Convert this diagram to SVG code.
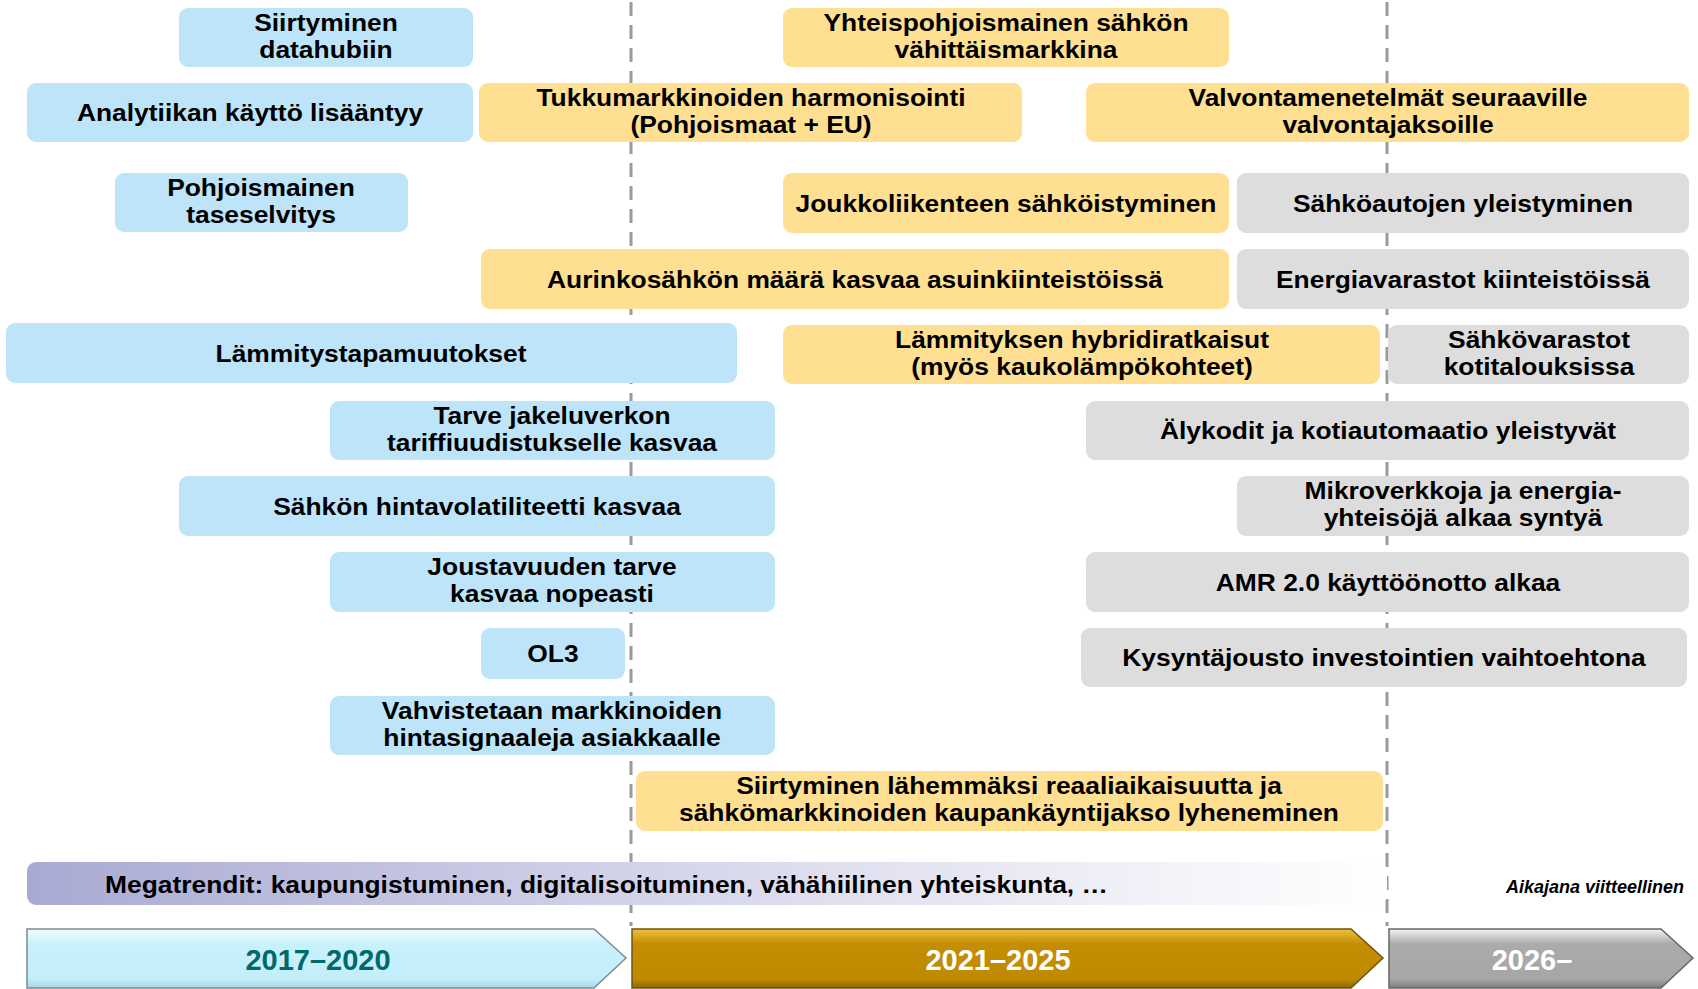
<svg xmlns="http://www.w3.org/2000/svg" width="1698" height="989" viewBox="0 0 1698 989">
<style>
.b{fill:#BDE4F8}
.y{fill:#FFDF91}
.g{fill:#DDDDDD}
.t{font-family:"Liberation Sans",Arial,sans-serif;font-weight:bold;font-size:24px;fill:#000;text-anchor:middle}
.yr{font-family:"Liberation Sans",Arial,sans-serif;font-weight:bold;font-size:29px;text-anchor:middle}
.dash{stroke:#9A9A9A;stroke-width:3;stroke-dasharray:14 9;fill:none}
</style>
<defs>
<linearGradient id="mega" x1="0" y1="0" x2="1" y2="0">
<stop offset="0" stop-color="#A9AAD3"/>
<stop offset="0.55" stop-color="#DCDCEE"/>
<stop offset="1" stop-color="#FFFFFF"/>
</linearGradient>
<linearGradient id="cy" x1="0" y1="0" x2="0" y2="1">
<stop offset="0" stop-color="#F2FDFF"/>
<stop offset="0.25" stop-color="#C9F1FC"/>
<stop offset="0.85" stop-color="#C2EEFA"/>
<stop offset="1" stop-color="#A9D6E2"/>
</linearGradient>
<linearGradient id="gd" x1="0" y1="0" x2="0" y2="1">
<stop offset="0" stop-color="#F0C040"/>
<stop offset="0.25" stop-color="#C48E04"/>
<stop offset="0.85" stop-color="#BF8A00"/>
<stop offset="1" stop-color="#8E6600"/>
</linearGradient>
<linearGradient id="gr" x1="0" y1="0" x2="0" y2="1">
<stop offset="0" stop-color="#F2F2F2"/>
<stop offset="0.25" stop-color="#ABABAB"/>
<stop offset="0.85" stop-color="#A6A6A6"/>
<stop offset="1" stop-color="#7E7E7E"/>
</linearGradient>
</defs>
<rect width="1698" height="989" fill="#FFFFFF"/>
<g id="connectors">
<line class="dash" x1="631" y1="2" x2="631" y2="926"/>
<line class="dash" x1="1387" y1="2" x2="1387" y2="926"/>
</g>
<g id="n1"><rect class="b" x="179" y="8" width="294" height="59" rx="9"/><g transform="translate(326 0) scale(1.1 1)"><text class="t" x="0" y="31">Siirtyminen</text><text class="t" x="0" y="58">datahubiin</text></g></g>
<g id="n2"><rect class="y" x="783" y="8" width="446" height="59" rx="9"/><g transform="translate(1006 0) scale(1.1 1)"><text class="t" x="0" y="31">Yhteispohjoismainen sähkön</text><text class="t" x="0" y="58">vähittäismarkkina</text></g></g>
<g id="n3"><rect class="b" x="27" y="83" width="446" height="59" rx="9"/><g transform="translate(250 0) scale(1.1 1)"><text class="t" x="0" y="121">Analytiikan käyttö lisääntyy</text></g></g>
<g id="n4"><rect class="y" x="479" y="83" width="543" height="59" rx="9"/><g transform="translate(751 0) scale(1.1 1)"><text class="t" x="0" y="106">Tukkumarkkinoiden harmonisointi</text><text class="t" x="0" y="133">(Pohjoismaat + EU)</text></g></g>
<g id="n5"><rect class="y" x="1086" y="83" width="603" height="59" rx="9"/><g transform="translate(1388 0) scale(1.1 1)"><text class="t" x="0" y="106">Valvontamenetelmät seuraaville</text><text class="t" x="0" y="133">valvontajaksoille</text></g></g>
<g id="n6"><rect class="b" x="115" y="173" width="293" height="59" rx="9"/><g transform="translate(261 0) scale(1.1 1)"><text class="t" x="0" y="196">Pohjoismainen</text><text class="t" x="0" y="223">taseselvitys</text></g></g>
<g id="n7"><rect class="y" x="783" y="173" width="446" height="60" rx="9"/><g transform="translate(1006 0) scale(1.1 1)"><text class="t" x="0" y="212">Joukkoliikenteen sähköistyminen</text></g></g>
<g id="n8"><rect class="g" x="1237" y="173" width="452" height="60" rx="9"/><g transform="translate(1463 0) scale(1.1 1)"><text class="t" x="0" y="212">Sähköautojen yleistyminen</text></g></g>
<g id="n9"><rect class="y" x="481" y="249" width="748" height="60" rx="9"/><g transform="translate(855 0) scale(1.1 1)"><text class="t" x="0" y="288">Aurinkosähkön määrä kasvaa asuinkiinteistöissä</text></g></g>
<g id="n10"><rect class="g" x="1237" y="249" width="452" height="60" rx="9"/><g transform="translate(1463 0) scale(1.1 1)"><text class="t" x="0" y="288">Energiavarastot kiinteistöissä</text></g></g>
<g id="n11"><rect class="b" x="6" y="323" width="731" height="60" rx="9"/><g transform="translate(371 0) scale(1.1 1)"><text class="t" x="0" y="362">Lämmitystapamuutokset</text></g></g>
<g id="n12"><rect class="y" x="783" y="325" width="597" height="59" rx="9"/><g transform="translate(1082 0) scale(1.1 1)"><text class="t" x="0" y="348">Lämmityksen hybridiratkaisut</text><text class="t" x="0" y="375">(myös kaukolämpökohteet)</text></g></g>
<g id="n13"><rect class="g" x="1388" y="325" width="301" height="59" rx="9"/><g transform="translate(1539 0) scale(1.1 1)"><text class="t" x="0" y="348">Sähkövarastot</text><text class="t" x="0" y="375">kotitalouksissa</text></g></g>
<g id="n14"><rect class="b" x="330" y="401" width="445" height="59" rx="9"/><g transform="translate(552 0) scale(1.1 1)"><text class="t" x="0" y="424">Tarve jakeluverkon</text><text class="t" x="0" y="451">tariffiuudistukselle kasvaa</text></g></g>
<g id="n15"><rect class="g" x="1086" y="401" width="603" height="59" rx="9"/><g transform="translate(1388 0) scale(1.1 1)"><text class="t" x="0" y="439">Älykodit ja kotiautomaatio yleistyvät</text></g></g>
<g id="n16"><rect class="b" x="179" y="476" width="596" height="60" rx="9"/><g transform="translate(477 0) scale(1.1 1)"><text class="t" x="0" y="515">Sähkön hintavolatiliteetti kasvaa</text></g></g>
<g id="n17"><rect class="g" x="1237" y="476" width="452" height="60" rx="9"/><g transform="translate(1463 0) scale(1.1 1)"><text class="t" x="0" y="499">Mikroverkkoja ja energia-</text><text class="t" x="0" y="526">yhteisöjä alkaa syntyä</text></g></g>
<g id="n18"><rect class="b" x="330" y="552" width="445" height="60" rx="9"/><g transform="translate(552 0) scale(1.1 1)"><text class="t" x="0" y="575">Joustavuuden tarve</text><text class="t" x="0" y="602">kasvaa nopeasti</text></g></g>
<g id="n19"><rect class="g" x="1086" y="552" width="603" height="60" rx="9"/><g transform="translate(1388 0) scale(1.1 1)"><text class="t" x="0" y="591">AMR 2.0 käyttöönotto alkaa</text></g></g>
<g id="n20"><rect class="b" x="481" y="628" width="144" height="51" rx="9"/><g transform="translate(553 0) scale(1.1 1)"><text class="t" x="0" y="662">OL3</text></g></g>
<g id="n21"><rect class="g" x="1081" y="628" width="606" height="59" rx="9"/><g transform="translate(1384 0) scale(1.1 1)"><text class="t" x="0" y="666">Kysyntäjousto investointien vaihtoehtona</text></g></g>
<g id="n22"><rect class="b" x="330" y="696" width="445" height="59" rx="9"/><g transform="translate(552 0) scale(1.1 1)"><text class="t" x="0" y="719">Vahvistetaan markkinoiden</text><text class="t" x="0" y="746">hintasignaaleja asiakkaalle</text></g></g>
<g id="n23"><rect class="y" x="636" y="771" width="747" height="60" rx="9"/><g transform="translate(1009 0) scale(1.1 1)"><text class="t" x="0" y="794">Siirtyminen lähemmäksi reaaliaikaisuutta ja</text><text class="t" x="0" y="821">sähkömarkkinoiden kaupankäyntijakso lyheneminen</text></g></g>
<g id="megatrend"><rect x="27" y="862" width="1360" height="43" rx="9" fill="url(#mega)"/><g transform="translate(105 0) scale(1.1 1)"><text class="t" x="0" y="893" style="text-anchor:start">Megatrendit: kaupungistuminen, digitalisoituminen, vähähiilinen yhteiskunta, …</text></g></g>
<g id="note"><text x="1684" y="893" style="font-family:'Liberation Sans',Arial,sans-serif;font-weight:bold;font-style:italic;font-size:18px;text-anchor:end">Aikajana viitteellinen</text></g>
<g id="p1"><polygon points="27,929 594,929 626,958 594,988 27,988" fill="url(#cy)" stroke="#7A8C92" stroke-width="1.5"/><text class="yr" x="318" y="970" style="fill:#006A6A">2017–2020</text></g>
<g id="p2"><polygon points="632,929 1351,929 1383,958 1351,988 632,988" fill="url(#gd)" stroke="#6E5410" stroke-width="1.5"/><text class="yr" x="998" y="970" style="fill:#FFFFFF">2021–2025</text></g>
<g id="p3"><polygon points="1389,929 1661,929 1693,958 1661,988 1389,988" fill="url(#gr)" stroke="#666666" stroke-width="1.5"/><text class="yr" x="1532" y="970" style="fill:#FFFFFF">2026–</text></g>
</svg>
